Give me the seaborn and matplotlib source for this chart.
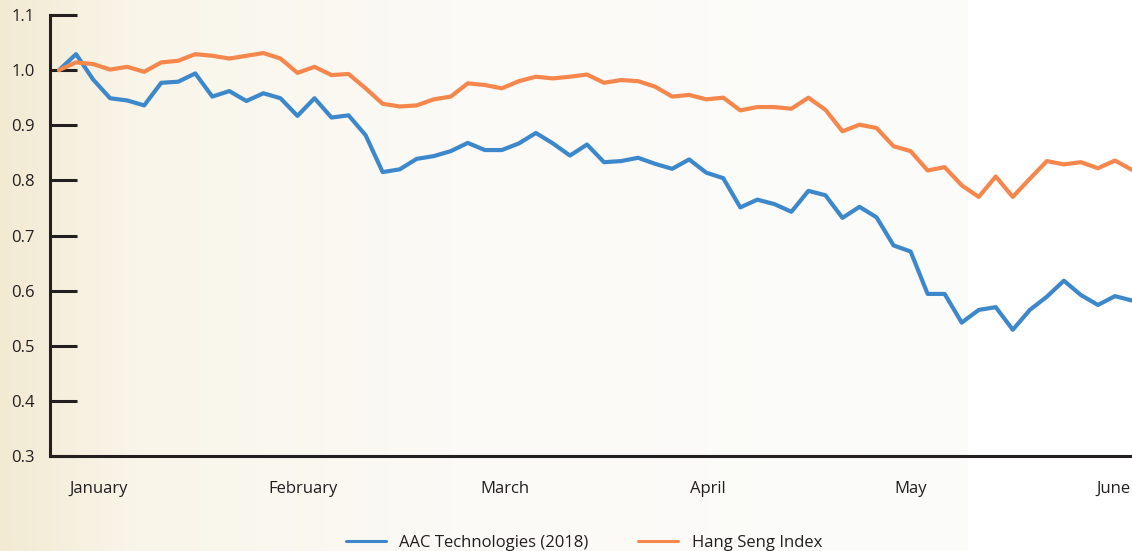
import numpy as np
import pandas as pd
import matplotlib
matplotlib.use("Agg")
import matplotlib.pyplot as plt
import seaborn as sns

# values normalised to the first observation
aac = [1.000, 1.029, 0.983, 0.949, 0.945, 0.936, 0.977, 0.979, 0.994, 0.952,
       0.962, 0.944, 0.958, 0.949, 0.917, 0.949, 0.914, 0.918, 0.882, 0.815,
       0.820, 0.839, 0.844, 0.853, 0.868, 0.855, 0.855, 0.867, 0.886, 0.867,
       0.845, 0.865, 0.833, 0.835, 0.841, 0.830, 0.821, 0.838, 0.814, 0.804,
       0.751, 0.765, 0.757, 0.743, 0.781, 0.773, 0.732, 0.752, 0.733, 0.682,
       0.671, 0.594, 0.594, 0.542, 0.565, 0.570, 0.529, 0.565, 0.589, 0.618,
       0.592, 0.574, 0.590, 0.582]
hsi = [1.000, 1.014, 1.011, 1.001, 1.006, 0.997, 1.014, 1.017, 1.029, 1.026,
       1.021, 1.026, 1.031, 1.021, 0.995, 1.006, 0.991, 0.993, 0.967, 0.939,
       0.934, 0.936, 0.947, 0.952, 0.976, 0.973, 0.967, 0.980, 0.988, 0.985,
       0.988, 0.992, 0.977, 0.982, 0.980, 0.970, 0.952, 0.955, 0.947, 0.950,
       0.927, 0.933, 0.933, 0.930, 0.950, 0.928, 0.889, 0.901, 0.895, 0.862,
       0.853, 0.818, 0.824, 0.791, 0.770, 0.807, 0.770, 0.803, 0.835, 0.829,
       0.833, 0.822, 0.836, 0.819]
months = ["January", "February", "March", "April", "May", "June"]
month_pos = [2.35, 14.3, 26.2, 38.1, 50.0, 61.9]
yticks = [0.3, 0.4, 0.5, 0.6, 0.7, 0.8, 0.9, 1.0, 1.1]
series_names = ["AAC Technologies (2018)", "Hang Seng Index"]
colors = ["#3d88cb", "#f5874c"]

df = pd.DataFrame({"step": range(len(aac)), series_names[0]: aac, series_names[1]: hsi})
long = df.melt(id_vars="step", var_name="series", value_name="value")

sns.set_theme(style="white")
plt.rcParams["font.family"] = ["Open Sans", "DejaVu Sans"]
ink = "#231f20"

fig = plt.figure(figsize=(11.32, 5.51), dpi=100)

# creamy background fading to white on the right
bg = fig.add_axes([0, 0, 1, 1], zorder=-10)
xs = np.linspace(0, 1, 600)
left = np.array([242, 234, 211]) / 255
cream = np.array([249, 245, 233]) / 255
mid = np.array([251, 250, 246]) / 255
edge = np.array([252, 252, 251]) / 255
grad = np.zeros((1, 600, 3))
for i, x in enumerate(xs):
    if x < 0.12:
        t = x / 0.12
        grad[0, i] = left * (1 - t) + cream * t
    elif x < 0.4:
        t = (x - 0.12) / 0.28
        grad[0, i] = cream * (1 - t) + mid * t
    elif x < 0.855:
        t = (x - 0.4) / 0.455
        grad[0, i] = mid * (1 - t) + edge * t
    else:
        grad[0, i] = 1.0
bg.imshow(grad, aspect="auto", extent=[0, 1, 0, 1])
bg.axis("off")

ax = fig.add_axes([50 / 1132, (551 - 456) / 551, 1 - 50 / 1132, (456 - 15) / 551])
ax.patch.set_alpha(0)
sns.lineplot(data=long, x="step", y="value", hue="series", palette=colors,
             linewidth=3.0, ax=ax, legend=False)

ax.set_xlim(-0.53, 63.0)
ax.set_ylim(0.3, 1.1)
ax.set_yticks(yticks)
ax.set_yticklabels([f"{v:.1f}" for v in yticks], fontsize=12, color=ink)
ax.set_xticks(month_pos)
ax.set_xticklabels(months, fontsize=12, color=ink)
ax.tick_params(axis="y", left=True, direction="in", length=19.5, width=2.2,
               color=ink, pad=11)
ax.tick_params(axis="x", bottom=False, length=0, pad=18)
ax.set_xlabel("")
ax.set_ylabel("")
for s in ["top", "right"]:
    ax.spines[s].set_visible(False)
for s in ["left", "bottom"]:
    ax.spines[s].set_color(ink)
    ax.spines[s].set_linewidth(2.2)

handles = [plt.Line2D([], [], color=c, lw=2.2) for c in colors]
fig.legend(handles, series_names, loc="center", bbox_to_anchor=(584 / 1132, 1 - 543 / 551),
           ncol=2, frameon=False, fontsize=12, handlelength=2.4, columnspacing=3.0,
           labelcolor=ink)

fig.savefig("out.png", dpi=100)
